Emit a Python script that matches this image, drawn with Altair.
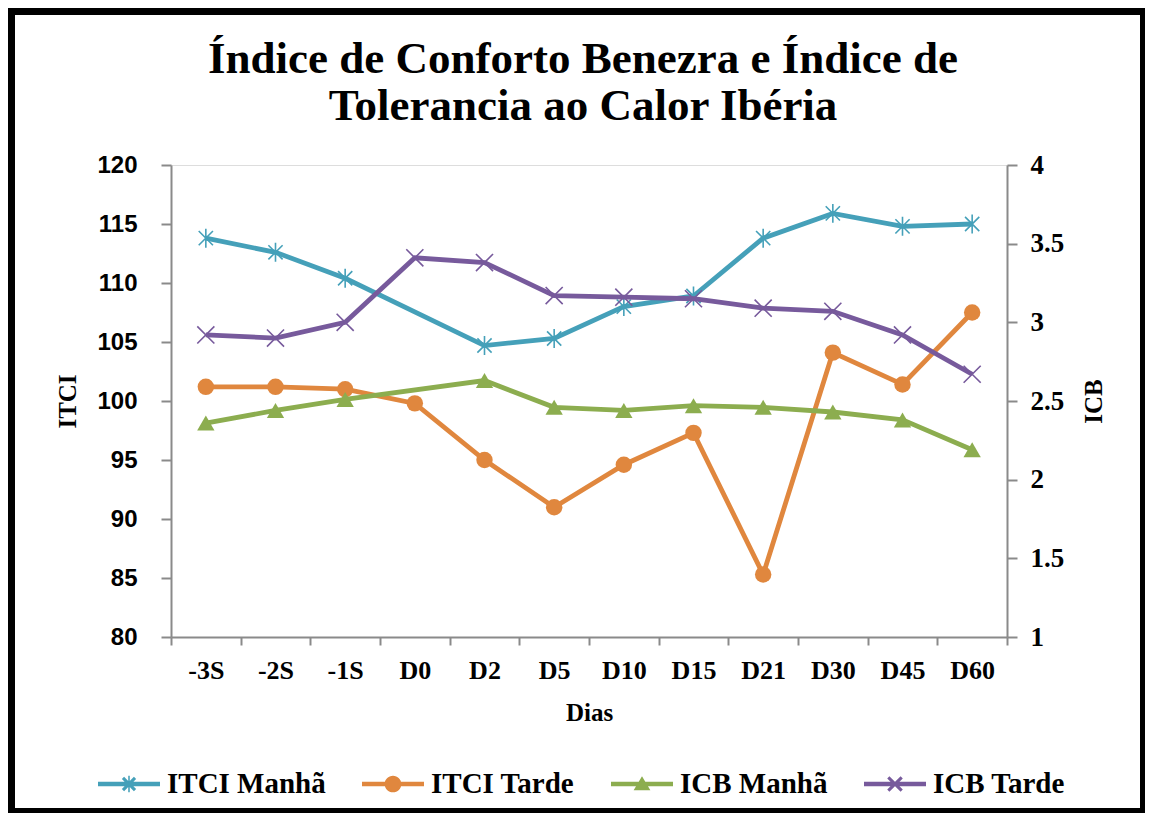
import altair as alt
import pandas as pd
import math

# ---------------- data ----------------
dias = ["-3S", "-2S", "-1S", "D0", "D2", "D5", "D10", "D15", "D21", "D30", "D45", "D60"]
itci_manha = [113.8, 112.6, 110.4, None, 104.7, 105.3, 108.0, 108.9, 113.8, 115.9, 114.8, 115.0]
itci_tarde = [101.2, 101.2, 101.0, 99.8, 95.0, 91.0, 94.6, 97.3, 85.3, 104.1, 101.4, 107.5]
icb_manha = [2.36, 2.44, 2.51, None, 2.63, 2.46, 2.44, 2.47, 2.46, 2.43, 2.38, 2.19]
icb_tarde = [2.92, 2.90, 3.00, 3.41, 3.38, 3.17, 3.16, 3.15, 3.09, 3.07, 2.92, 2.67]

series = ["ITCI Manhã", "ITCI Tarde", "ICB Manhã", "ICB Tarde"]
colors = ["#45A0B9", "#E0873E", "#8CAD4F", "#775A9C"]
itci_ticks = [80, 85, 90, 95, 100, 105, 110, 115, 120]
icb_ticks = [1, 1.5, 2, 2.5, 3, 3.5, 4]

rows = []
for s, vals in zip(series, [itci_manha, itci_tarde, icb_manha, icb_tarde]):
    for d, v in zip(dias, vals):
        rows.append({"dia": d, "serie": s, "valor": v})
df = pd.DataFrame(rows)

# ---------------- marker shapes ----------------
ASTER = "M0,-1L0,1M-0.75,-0.75L0.75,0.75M-0.75,0.75L0.75,-0.75"
XMARK = "M-0.9,-0.9L0.9,0.9M-0.9,0.9L0.9,-0.9"
marker = {
    "ITCI Manhã": dict(shape=ASTER, filled=False, size=360, strokeWidth=1.6),
    "ITCI Tarde": dict(shape="circle", filled=True, size=270, strokeWidth=0),
    "ICB Manhã": dict(shape="triangle-up", filled=True, size=300, strokeWidth=0),
    "ICB Tarde": dict(shape=XMARK, filled=False, size=360, strokeWidth=1.6),
}


def f(v):
    return f"{v:.3f}"


def poly(pts):
    return "M" + "L".join(f"{f(x)},{f(y)}" for x, y in pts) + "Z"


def diag(a, t, down=True):
    d = t / math.sqrt(2)
    if down:
        return poly([(-a + d, -a - d), (a + d, a - d), (a - d, a + d), (-a - d, -a + d)])
    return poly([(-a - d, a - d), (a - d, -a - d), (a + d, -a + d), (-a + d, a + d)])


LT = 0.075  # legend line half thickness
line_seg = poly([(-1, -LT), (1, -LT), (1, LT), (-1, LT)])
r = 0.27
thin = 0.05
leg_aster = (line_seg + poly([(-thin / 2, -r), (thin / 2, -r), (thin / 2, r), (-thin / 2, r)])
             + diag(r * 0.72, thin, True) + diag(r * 0.72, thin, False))
leg_circle = line_seg + f"M{f(r)},0A{f(r)},{f(r)} 0 1,1 {f(-r)},0A{f(r)},{f(r)} 0 1,1 {f(r)},0Z"
leg_tri = line_seg + poly([(0, -0.25), (0.27, 0.2), (-0.27, 0.2)])
leg_x = line_seg + diag(r * 0.8, thin, True) + diag(r * 0.8, thin, False)
legend_shapes = [leg_aster, leg_circle, leg_tri, leg_x]

# ---------------- encodings ----------------
SERIF = "Liberation Serif"
AX = "#8A8A8A"

x_enc = alt.X(
    "dia:N", sort=dias,
    scale=alt.Scale(domain=dias, paddingInner=0, paddingOuter=0),
    axis=alt.Axis(title="Dias", labelAngle=0, tickBand="extent", tickSize=8, tickWidth=2,
                  domainWidth=2, domainColor=AX, tickColor=AX, grid=False,
                  labelFont=SERIF, labelFontSize=26, labelFontWeight="bold", labelColor="black",
                  labelPadding=12, titleFont=SERIF, titleFontSize=25, titleFontWeight="bold",
                  titleColor="black", titlePadding=17),
)
y_left = alt.Y(
    "valor:Q",
    scale=alt.Scale(domain=[80, 120], nice=False, zero=False),
    axis=alt.Axis(title="ITCI", values=itci_ticks, tickSize=10, tickWidth=2, domainWidth=2,
                  domainColor=AX, tickColor=AX, grid=False,
                  labelFont="Liberation Sans", labelFontSize=24, labelFontWeight="bold",
                  labelColor="black", labelPadding=24,
                  titleFont=SERIF, titleFontSize=25, titleFontWeight="bold", titleColor="black",
                  titlePadding=16),
)
y_right = alt.Y(
    "valor:Q",
    scale=alt.Scale(domain=[1, 4], nice=False, zero=False),
    axis=alt.Axis(orient="right", title="ICB", values=icb_ticks, format="~g", tickSize=10,
                  tickWidth=2, domainWidth=2, domainColor=AX, tickColor=AX, grid=False,
                  labelFont=SERIF, labelFontSize=27, labelFontWeight="bold", labelColor="black",
                  labelPadding=13, titleAngle=270, titleBaseline="top",
                  titleFont=SERIF, titleFontSize=25, titleFontWeight="bold", titleColor="black",
                  titlePadding=18),
)


def panel(names, y_enc):
    base = alt.Chart(df).transform_filter("isValid(datum.valor)")
    layers = []
    for s in names:
        c = colors[series.index(s)]
        m = marker[s]
        sel = base.transform_filter(alt.datum.serie == s)
        layers.append(sel.mark_line(strokeWidth=4.8, color=c).encode(x=x_enc, y=y_enc))
        layers.append(
            sel.mark_point(shape=m["shape"], filled=m["filled"], size=m["size"],
                           strokeWidth=m["strokeWidth"], opacity=1, color=c)
            .encode(x=x_enc, y=y_enc)
        )
    return alt.layer(*layers)


left = panel(series[:2], y_left)
right = panel(series[2:], y_right)

legend = alt.Legend(title=None, orient="none", legendX=-73, legendY=588, direction="horizontal",
                    symbolSize=3844, symbolStrokeWidth=0, symbolOpacity=1,
                    labelFont=SERIF, labelFontSize=29, labelFontWeight="bold",
                    labelColor="black", labelOffset=7, columnPadding=36)
legend_layer = alt.Chart(pd.DataFrame({"serie": series})).mark_point(
    filled=True, opacity=0
).encode(
    color=alt.Color("serie:N", scale=alt.Scale(domain=series, range=colors), legend=legend),
    shape=alt.Shape("serie:N", scale=alt.Scale(domain=series, range=legend_shapes), legend=legend),
)

border = alt.Chart(pd.DataFrame({"b": [0]})).mark_rect(
    fillOpacity=0, stroke="black", strokeWidth=8
).encode(x=alt.value(-160), x2=alt.value(973), y=alt.value(-154), y2=alt.value(647))

chart = alt.layer(border, left, right, legend_layer).resolve_scale(y="independent").properties(
    width=836,
    height=472,
    padding={"left": 163, "top": 157, "right": 138, "bottom": 176},
    autosize=alt.AutoSizeParams(type="none"),
    title=alt.TitleParams(
        text=["Índice de Conforto Benezra  e Índice de", "Tolerancia ao Calor Ibéria"],
        font=SERIF, fontSize=45, fontWeight="bold", color="black", anchor="middle",
        lineHeight=47, offset=-122, dx=-6,
    ),
).configure_view(strokeWidth=0).configure(background="white")

chart.save("out.html", embed_options={"renderer": "svg", "actions": False})
